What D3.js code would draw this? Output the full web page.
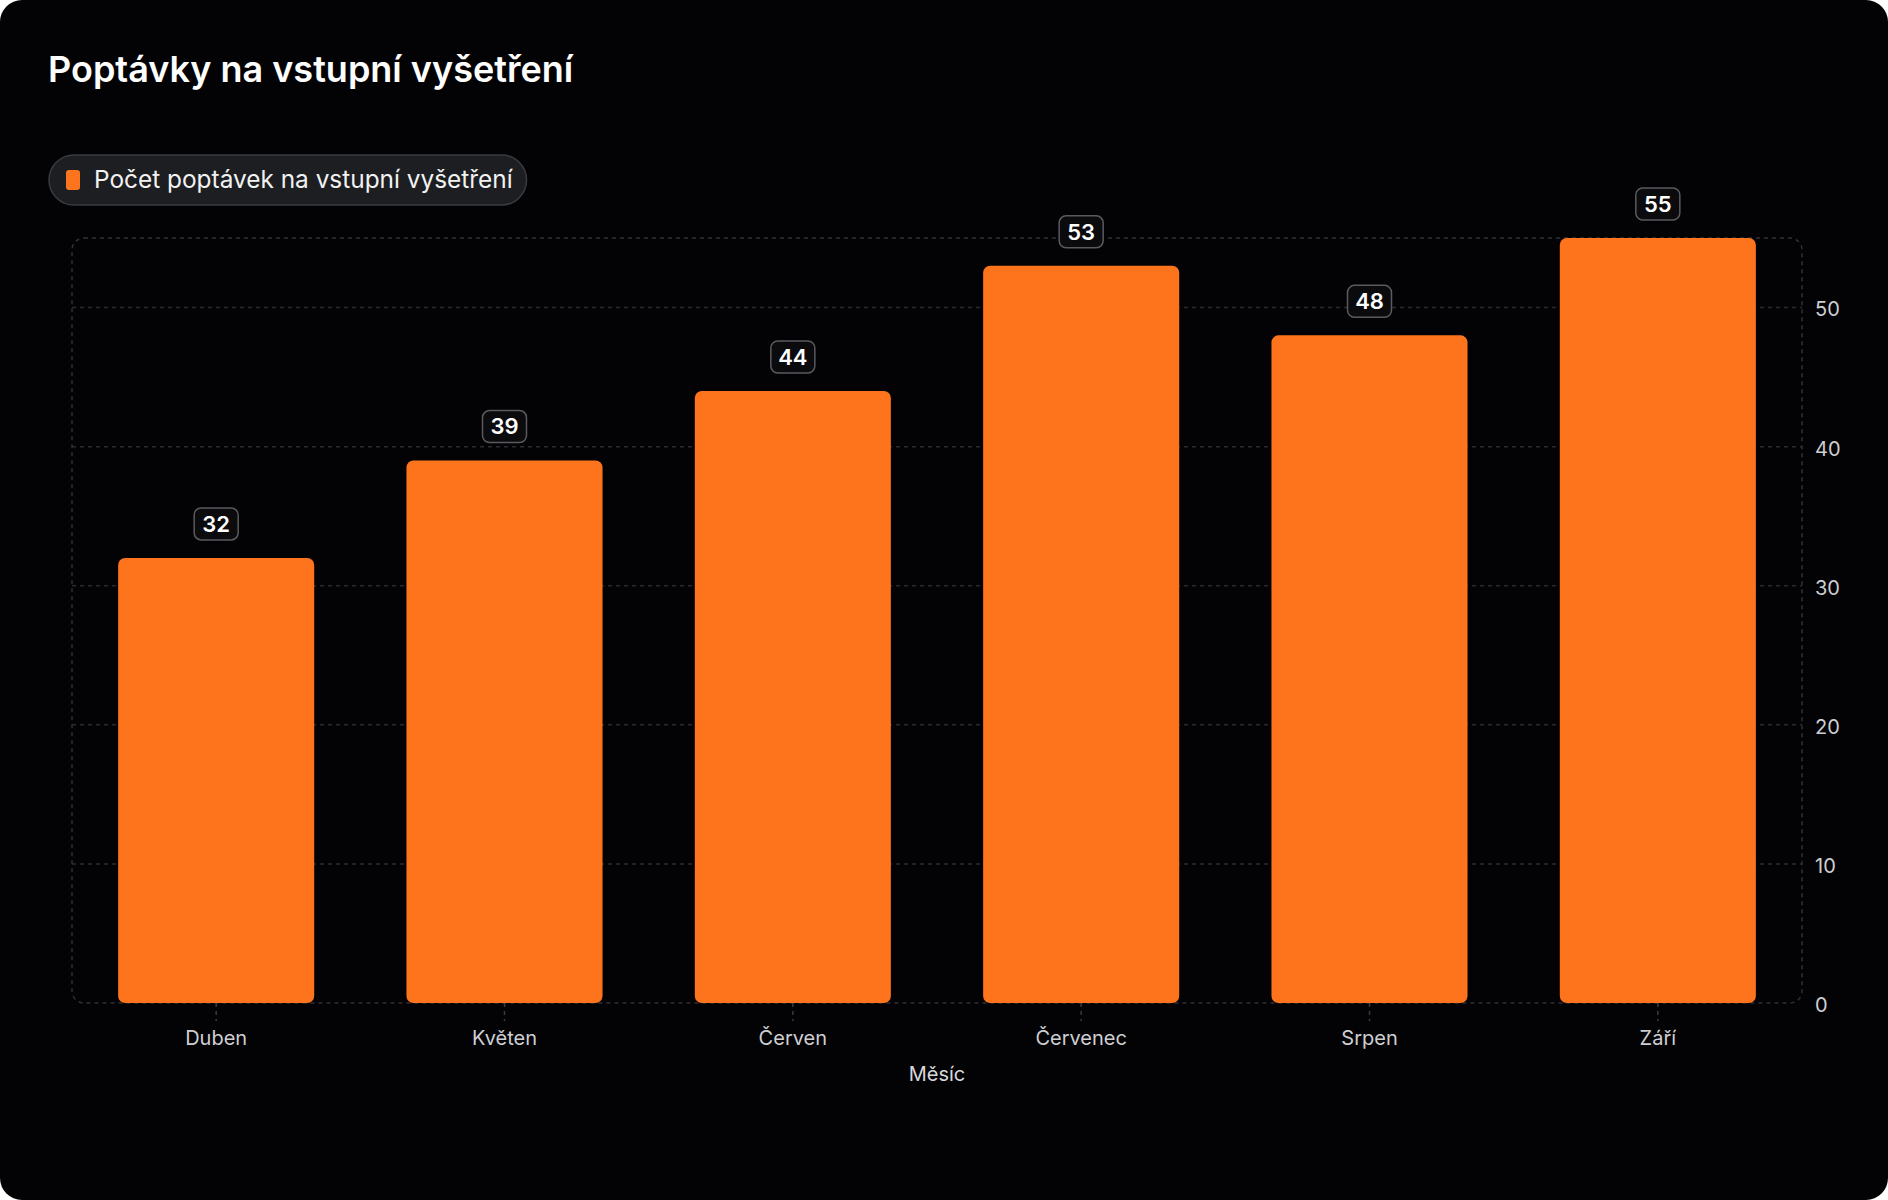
<!DOCTYPE html>
<html>
<head>
<meta charset="utf-8">
<script src="https://cdn.jsdelivr.net/npm/d3@7"></script>
<style>
  html, body { margin: 0; padding: 0; background: #ffffff; }
  body { width: 1888px; height: 1200px; overflow: hidden; font-family: Inter, "Noto Sans", sans-serif; }
</style>
</head>
<body>
<div id="chart"></div>
<script>
const months = ['Duben', 'Květen', 'Červen', 'Červenec', 'Srpen', 'Září'];
const requests = [32, 39, 44, 53, 48, 55];
const yTicks = [0, 10, 20, 30, 40, 50];

const chartTitle = 'Poptávky na vstupní vyšetření';
const seriesName = 'Počet poptávek na vstupní vyšetření';
const xTitle = 'Měsíc';

const rawWidth = 1888;
const rawHeight = 1200;
const margin = { left: 72, right: 86, top: 238, bot: 197 };
const width = rawWidth - margin.left - margin.right;
const height = rawHeight - margin.top - margin.bot;
const orange = '#fe741d';

const svg = d3.select('#chart').append('svg')
    .attr('width', rawWidth)
    .attr('height', rawHeight);

// card
svg.append('rect')
    .attr('width', rawWidth).attr('height', rawHeight)
    .attr('rx', 22)
    .attr('fill', '#030305');

svg.append('text')
    .attr('x', 48).attr('y', 82)
    .attr('fill', '#ffffff')
    .attr('font-size', 36)
    .attr('font-weight', 600)
    .text(chartTitle);

// legend pill
const legend = svg.append('g').attr('transform', 'translate(49,155)');
const legendText = legend.append('text')
    .attr('x', 45).attr('y', 33)
    .attr('fill', '#f2f2f2')
    .attr('font-size', 24.4)
    .text(seriesName);
const textW = legendText.node().getComputedTextLength();
legend.insert('rect', 'text')
    .attr('width', 45 + textW + 14).attr('height', 50)
    .attr('rx', 25)
    .attr('fill', '#1d1e22')
    .attr('stroke', '#3a3b40')
    .attr('stroke-width', 1.5);
legend.insert('rect', 'text')
    .attr('x', 17).attr('y', 15)
    .attr('width', 14).attr('height', 20)
    .attr('rx', 3)
    .attr('fill', orange);

const x = d3.scaleBand()
    .domain(months)
    .range([0, width])
    .paddingInner(0.32)
    .paddingOuter(0.16);

const y = d3.scaleLinear()
    .domain([0, 55])
    .range([height, 0]);

const plot = svg.append('g')
    .attr('transform', `translate(${margin.left},${margin.top})`);

// grid lines
plot.append('g')
    .selectAll('line')
    .data(yTicks.filter(d => d > 0))
    .join('line')
    .attr('x1', 0).attr('x2', width)
    .attr('y1', d => y(d)).attr('y2', d => y(d))
    .attr('stroke', '#2b2b30')
    .attr('stroke-width', 1.5)
    .attr('stroke-dasharray', '4,4');

// plot frame
plot.append('rect')
    .attr('width', width).attr('height', height)
    .attr('rx', 12)
    .attr('fill', 'none')
    .attr('stroke', '#303036')
    .attr('stroke-width', 1.5)
    .attr('stroke-dasharray', '4,4');

// x axis
const xAxis = plot.append('g')
    .attr('transform', `translate(0,${height})`)
    .call(d3.axisBottom(x).tickSize(18).tickPadding(10));
xAxis.select('.domain').remove();
xAxis.selectAll('line')
    .attr('stroke', '#3a3a40')
    .attr('stroke-width', 1.5)
    .attr('stroke-dasharray', '4,4');
xAxis.selectAll('text')
    .attr('fill', '#cfcfd3')
    .attr('font-size', 20)
    .attr('font-family', 'Inter, "Noto Sans", sans-serif');

// y axis on the right
const yAxis = plot.append('g')
    .attr('transform', `translate(${width},0)`)
    .call(d3.axisRight(y).tickValues(yTicks).tickSize(0).tickPadding(13));
yAxis.select('.domain').remove();
yAxis.selectAll('text')
    .attr('dy', '0.42em')
    .attr('fill', '#cfcfd3')
    .attr('font-size', 20)
    .attr('font-family', 'Inter, "Noto Sans", sans-serif');

// axis title
svg.append('text')
    .attr('x', margin.left + width / 2)
    .attr('y', 1081)
    .attr('text-anchor', 'middle')
    .attr('fill', '#d8d8dc')
    .attr('font-size', 20)
    .text(xTitle);

// bars
plot.append('g')
    .selectAll('rect')
    .data(requests)
    .join('rect')
    .attr('x', (d, i) => x(months[i]))
    .attr('y', d => y(d))
    .attr('width', x.bandwidth())
    .attr('height', d => height - y(d))
    .attr('rx', 7)
    .attr('fill', orange);

// value badges
const badges = plot.append('g')
    .selectAll('g')
    .data(requests)
    .join('g')
    .attr('transform', (d, i) => `translate(${x(months[i]) + x.bandwidth() / 2},${y(d) - 34})`);
badges.append('rect')
    .attr('x', -22).attr('y', -16)
    .attr('width', 44).attr('height', 32)
    .attr('rx', 7)
    .attr('fill', '#0b0b0e')
    .attr('stroke', '#5a5a60')
    .attr('stroke-width', 1.5);
badges.append('text')
    .attr('text-anchor', 'middle')
    .attr('dy', '0.36em')
    .attr('fill', '#ffffff')
    .attr('font-size', 22)
    .attr('font-weight', 600)
    .text(d => d);
</script>
</body>
</html>
